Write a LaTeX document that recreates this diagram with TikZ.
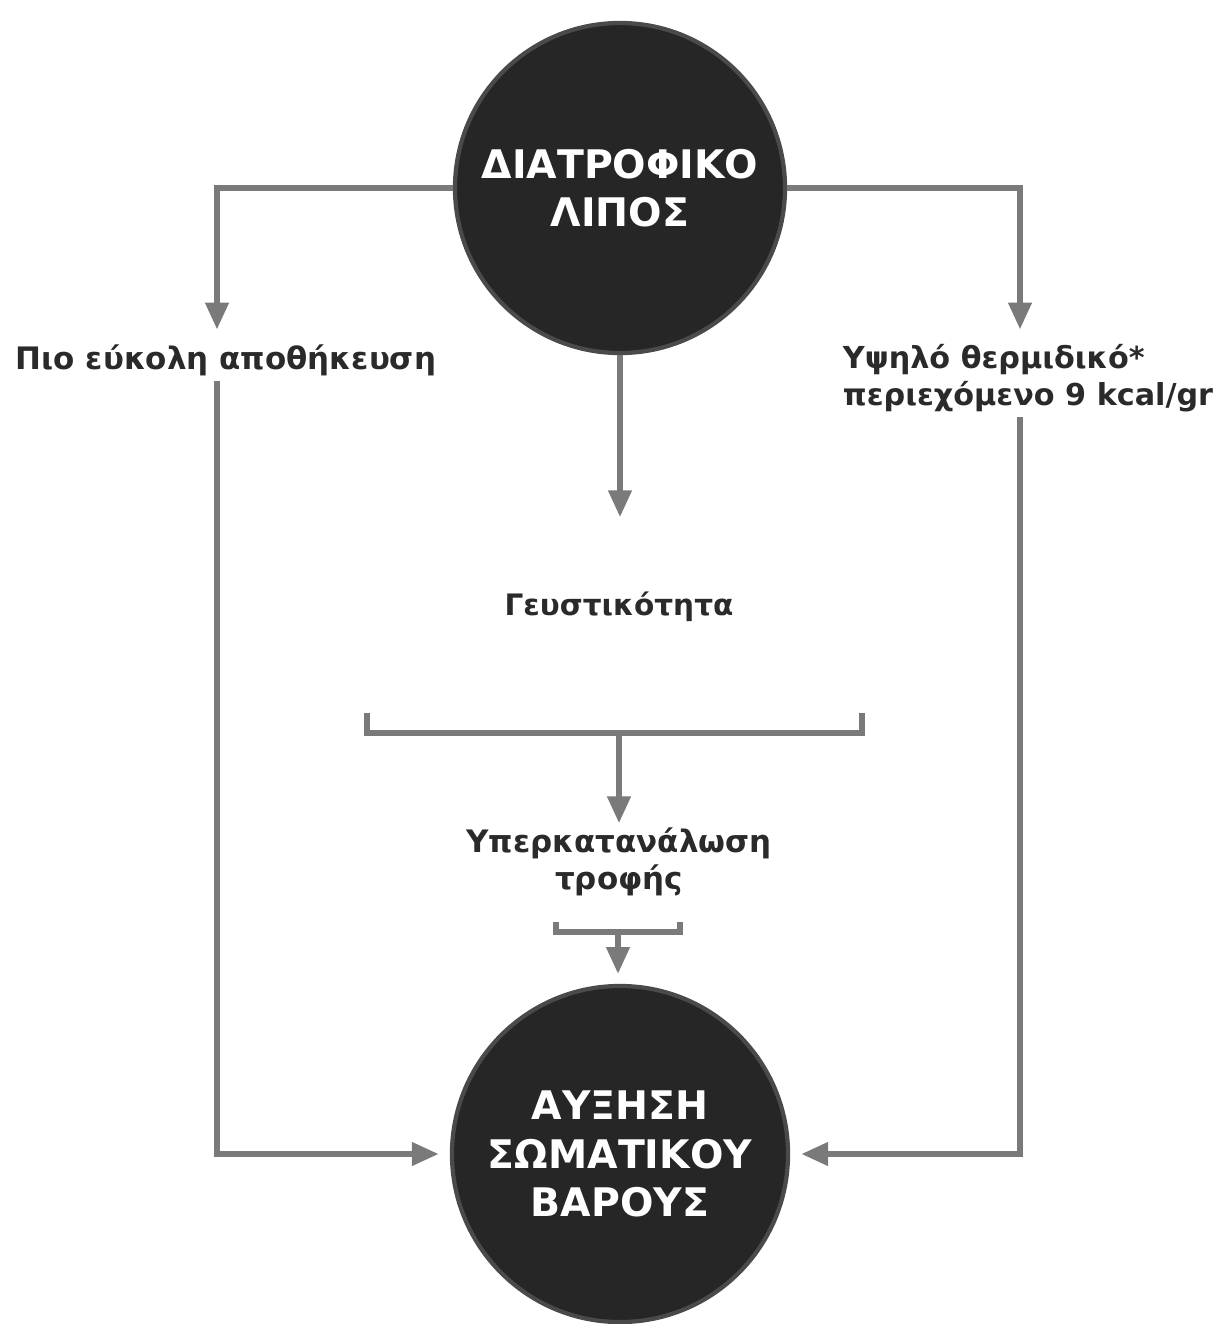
\documentclass[tikz,border=0pt]{standalone}
\usepackage{fontspec}
\setmainfont{DejaVu Sans}
\usetikzlibrary{arrows.meta}
\definecolor{chartink}{HTML}{2A2A2A}
\definecolor{chartline}{HTML}{7A7A7A}
\definecolor{chartdisc}{HTML}{262626}
\definecolor{chartrim}{HTML}{4A4A4A}
\newcommand{\disctext}{\fontsize{28}{34.5}\selectfont\bfseries}
\newcommand{\labeltext}{\fontsize{22}{26}\selectfont\bfseries}

\begin{document}
\begin{tikzpicture}[
  x=0.025cm,
  y=-0.025cm,
  every node/.style={chartink},
  disc/.style={circle, fill=chartdisc, draw=chartrim, line width=3pt,
    text=white, align=center, font=\disctext, inner sep=0pt},
  lbl/.style={align=center, font=\labeltext},
  flow/.style={chartline, line width=4pt, -{Triangle[length=19pt, width=16pt]}},
  brace/.style={chartline, line width=4pt}
]
  % ---- page frame, in pixels of the reference ---------------------------
  \useasboundingbox (0,0) rectangle (1219,1324);

  % ---- the two discs -----------------------------------------------------
  \node[disc, minimum size=8.25cm] (lipos) at (620,188) {ΔΙΑΤΡΟΦΙΚΟ\\ΛΙΠΟΣ};
  \node[disc, minimum size=8.4cm] (ayxisi) at (620,1154)
    {ΑΥΞΗΣΗ\\ΣΩΜΑΤΙΚΟΥ\\ΒΑΡΟΥΣ};

  % ---- labels ------------------------------------------------------------
  \node[lbl] (apoth) at (226,360) {Πιο εύκολη αποθήκευση};
  \node[lbl, align=left, font=\fontsize{21.5}{26}\selectfont\bfseries] (therm)
    at (1028,378) {Υψηλό θερμιδικό*\\περιεχόμενο 9 kcal/gr};
  \node[lbl, font=\fontsize{21}{26}\selectfont\bfseries] (geusi) at (619,607)
    {Γευστικότητα};
  \node[lbl] (yperk) at (619,862) {Υπερκατανάλωση\\τροφής};

  % ---- side rails --------------------------------------------------------
  \coordinate (leftrail) at (217,0);
  \coordinate (rightrail) at (1020,0);

  \draw[flow, shorten >=0.25cm] (lipos.west) -| (leftrail |- apoth.north);
  \draw[flow, shorten >=0.25cm] (lipos.east) -| (rightrail |- therm.north);
  \draw[flow, shorten >=0.28cm] (leftrail |- apoth.south) |- (ayxisi.west);
  \draw[flow, shorten >=0.28cm] (rightrail |- therm.south) |- (ayxisi.east);

  % ---- middle column -----------------------------------------------------
  \draw[flow, shorten >=1.75cm] (lipos.south) -- (lipos.south |- geusi.north);

  \coordinate (bigL) at (367,713);
  \coordinate (bigR) at (862,713);
  \coordinate (bigM) at (619,733);
  \draw[brace] (bigL) -- (bigL |- bigM) -- (bigR |- bigM) -- (bigR);
  \draw[flow] (bigM) -- (bigM |- yperk.north);

  \coordinate (smallL) at (556,922);
  \coordinate (smallR) at (680,922);
  \coordinate (smallM) at (618,932);
  \draw[brace] (smallL) -- (smallL |- smallM) -- (smallR |- smallM) -- (smallR);
  \draw[flow, shorten >=0.25cm] (smallM) -- (smallM |- ayxisi.north);
\end{tikzpicture}
\end{document}
